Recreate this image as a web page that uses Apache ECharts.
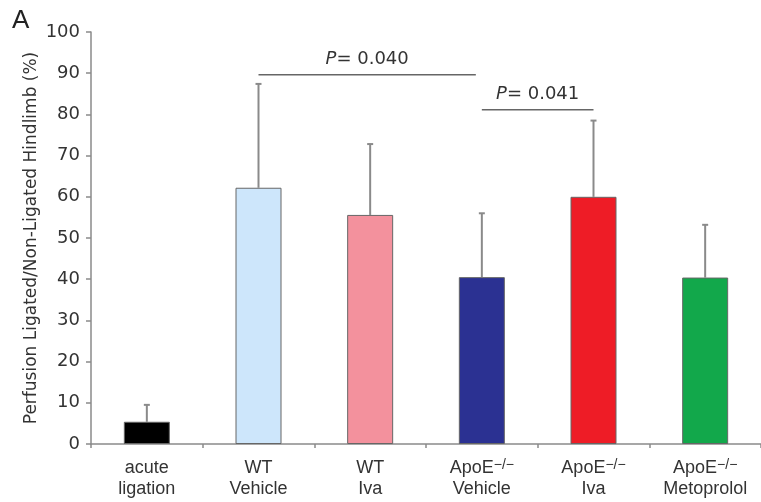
<!DOCTYPE html>
<html>
<head>
<meta charset="utf-8">
<script src="https://cdn.jsdelivr.net/npm/echarts@6/dist/echarts.min.js"></script>
<style>html,body{margin:0;padding:0;background:#fff;}#c{width:761px;height:502px;}</style>
</head>
<body>
<div id="c"></div>
<script>
const categories = ['acute\nligation', 'WT\nVehicle', 'WT\nIva', 'ApoE−/−\nVehicle', 'ApoE−/−\nIva', 'ApoE−/−\nMetoprolol'];
const meanValues = [5.4, 62.2, 55.6, 40.5, 60.0, 40.4];
const sdValues = [4.1, 25.2, 17.2, 15.5, 18.5, 12.8];
const barColors = ['#000000', '#cde6fb', '#f3919d', '#2b3192', '#ee1c26', '#12a84b'];
const yTicks = [0, 10, 20, 30, 40, 50, 60, 70, 80, 90, 100];
const compFrom = [1, 3];
const compTo = [3, 4];
const compLevel = [89.6, 81.1];
const compP = ['0.040', '0.041'];
const yAxisTitle = 'Perfusion Ligated/Non-Ligated Hindlimb (%)';
const panelLabel = 'A';

const chart = echarts.init(document.getElementById('c'), null, {renderer: 'canvas'});
const axisGray = '#8a8a8a';
const textCol = '#333';

const errData = meanValues.map((m, i) => [i, m, m + sdValues[i]]);
const compData = compFrom.map((f, i) => [f, compTo[i], compLevel[i], i]);

chart.setOption({
  animation: false,
  backgroundColor: '#ffffff',
  grid: {left: 91, right: -12, top: 32, bottom: 58, containLabel: false},
  graphic: [{
    type: 'text', left: 12, top: 8,
    style: {text: panelLabel, font: '26px "Liberation Sans", Arial, sans-serif', fill: '#222'}
  }],
  xAxis: {
    type: 'category',
    data: categories,
    axisLine: {lineStyle: {color: axisGray, width: 1.5}},
    axisTick: {show: true, length: 4, lineStyle: {color: axisGray, width: 1.5}},
    axisLabel: {
      interval: 0, margin: 14, color: textCol,
      fontFamily: '"Liberation Sans", Arial, sans-serif', fontSize: 18, lineHeight: 21,
      formatter: v => v.replace('ApoE−/−', 'ApoE{sup|−/−}'),
      rich: {
        sup: {fontSize: 14, lineHeight: 12, verticalAlign: 'top', color: textCol, fontFamily: '"Liberation Sans", Arial, sans-serif'}
      }
    }
  },
  yAxis: {
    type: 'value', min: 0, max: 100, interval: 10,
    name: yAxisTitle, nameLocation: 'middle', nameGap: 51, nameRotate: 90, nameMoveOverlap: false,
    nameTextStyle: {color: textCol, fontFamily: '"DejaVu Sans", sans-serif', fontSize: 17},
    axisLine: {show: true, lineStyle: {color: axisGray, width: 1.5}},
    axisTick: {show: true, length: 5, lineStyle: {color: axisGray, width: 1.5}},
    splitLine: {show: false},
    axisLabel: {
      margin: 11, color: textCol, fontFamily: '"DejaVu Sans", sans-serif', fontSize: 18,
      formatter: v => yTicks.includes(v) ? String(v) : ''
    }
  },
  series: [
    {
      type: 'custom',
      z: 1,
      data: errData,
      encode: {x: 0, y: [1, 2]},
      renderItem: (params, api) => {
        const i = api.value(0);
        const p0 = api.coord([i, api.value(1)]);
        const p1 = api.coord([i, api.value(2)]);
        return {
          type: 'group',
          children: [
            {type: 'line', shape: {x1: p0[0], y1: p0[1], x2: p1[0], y2: p1[1]}, style: {stroke: axisGray, lineWidth: 2}},
            {type: 'line', shape: {x1: p1[0] - 3, y1: p1[1], x2: p1[0] + 3, y2: p1[1]}, style: {stroke: axisGray, lineWidth: 2}}
          ]
        };
      }
    },
    {
      type: 'bar',
      z: 2,
      barWidth: 46,
      data: meanValues.map((v, i) => ({value: v, itemStyle: {color: barColors[i], borderColor: '#666', borderWidth: 1}}))
    },
    {
      type: 'custom',
      z: 3,
      data: compData,
      encode: {x: [0, 1], y: 2},
      renderItem: (params, api) => {
        const a = api.value(0), b = api.value(1), lvl = api.value(2), idx = api.value(3);
        const pa = api.coord([a, lvl]);
        const pb = api.coord([b, lvl]);
        const trim = compFrom.includes(b) ? 6 : 0;
        const x1 = pa[0], x2 = pb[0] - trim;
        return {
          type: 'group',
          children: [
            {type: 'line', shape: {x1: x1, y1: pa[1], x2: x2, y2: pa[1]}, style: {stroke: '#666', lineWidth: 1.5}},
            {type: 'text', style: {
              x: (x1 + x2) / 2, y: pa[1] - 16, align: 'center', verticalAlign: 'middle',
              text: '{i|P}= ' + compP[idx],
              fill: textCol, font: '18px "DejaVu Sans", sans-serif',
              rich: {i: {fontStyle: 'italic', fontFamily: '"DejaVu Sans", sans-serif', fontSize: 18, fill: textCol}}
            }}
          ]
        };
      }
    }
  ]
});
</script>
</body>
</html>
